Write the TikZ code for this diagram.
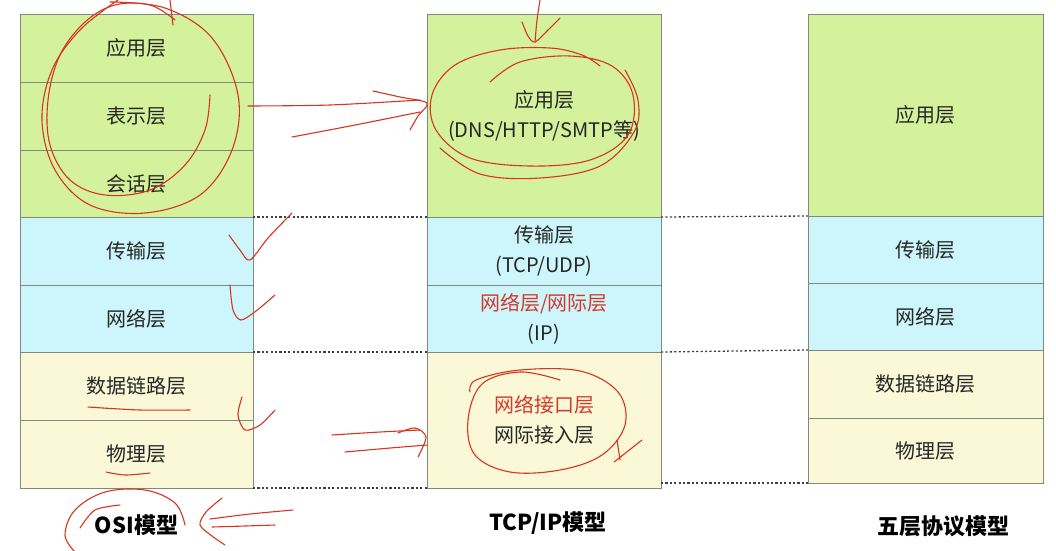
\documentclass[tikz,border=0pt]{standalone}
\usepackage{fontspec}
\setmainfont{Noto Sans CJK SC}
\usepackage{tikz}
\usetikzlibrary{positioning}
\definecolor{appGreen}{HTML}{D4F19C}
\definecolor{midBlue}{HTML}{CCF6FB}
\definecolor{lowYellow}{HTML}{FBF8D8}
\definecolor{edgeGray}{HTML}{7E8A80}
\definecolor{penRed}{HTML}{D8341E}
\definecolor{txtRed}{HTML}{D33A2C}

\tikzset{
  layer/.style={draw=edgeGray, line width=0.9pt, outer sep=0pt, inner sep=0pt,
    align=center, text=black!85, font=\fontsize{20}{30}\selectfont},
  osilayer/.style={layer, minimum width=233pt},
  tcplayer/.style={layer, minimum width=234pt},
  fivelayer/.style={layer, minimum width=235pt},
  caption/.style={inner sep=0pt, font=\fontsize{22}{26}\selectfont\bfseries},
  sep/.style={dash pattern=on 2.2pt off 2.2pt, line width=1.3pt, black!75},
  pen/.style={penRed, line width=1.1pt, line cap=round, line join=round},
}

\begin{document}
\begin{tikzpicture}[x=1pt, y=-1pt]
\useasboundingbox (0,0) rectangle (1056,550);

% OSI model
\node[osilayer, fill=appGreen, minimum height=68pt, anchor=north west] (osi-app) at (20,14) {应用层};
\node[osilayer, fill=appGreen, minimum height=68pt, below=0pt of osi-app] (osi-pres) {表示层};
\node[osilayer, fill=appGreen, minimum height=67pt, below=0pt of osi-pres] (osi-sess) {会话层};
\node[osilayer, fill=midBlue, minimum height=68pt, below=0pt of osi-sess] (osi-trans) {传输层};
\node[osilayer, fill=midBlue, minimum height=67pt, below=0pt of osi-trans] (osi-net) {网络层};
\node[osilayer, fill=lowYellow, minimum height=68pt, below=0pt of osi-net] (osi-link) {数据链路层};
\node[osilayer, fill=lowYellow, minimum height=68pt, below=0pt of osi-link] (osi-phys) {物理层};
\node[caption, below=26pt of osi-phys] (osi-cap) {OSI模型};

% TCP/IP model
\node[tcplayer, fill=appGreen, minimum height=203pt, anchor=north west] (tcp-app) at (427,14) {应用层\\(DNS/HTTP/SMTP等)};
\node[tcplayer, fill=midBlue, minimum height=68pt, below=0pt of tcp-app] (tcp-trans) {传输层\\(TCP/UDP)};
\node[tcplayer, fill=midBlue, minimum height=67pt, below=0pt of tcp-trans] (tcp-net) {\textcolor{txtRed}{网络层/网际层}\\(IP)};
\node[tcplayer, fill=lowYellow, minimum height=136pt, below=0pt of tcp-net] (tcp-link) {\textcolor{txtRed}{网络接口层}\\网际接入层};
\node[caption, below=23pt of tcp-link, xshift=4pt] (tcp-cap) {TCP/IP模型};

% five layer model
\node[fivelayer, fill=appGreen, minimum height=202pt, anchor=north west] (five-app) at (808,14) {应用层};
\node[fivelayer, fill=midBlue, minimum height=67pt, below=0pt of five-app] (five-trans) {传输层};
\node[fivelayer, fill=midBlue, minimum height=67pt, below=0pt of five-trans] (five-net) {网络层};
\node[fivelayer, fill=lowYellow, minimum height=68pt, below=0pt of five-net] (five-link) {数据链路层};
\node[fivelayer, fill=lowYellow, minimum height=65pt, below=0pt of five-link] (five-phys) {物理层};
\node[caption, below=32pt of five-phys, xshift=18pt] (five-cap) {五层协议模型};

% dotted separators
\draw[sep] (osi-sess.south east) -- (tcp-app.south west);
\draw[sep] (osi-net.south east) -- (tcp-net.south west);
\draw[sep] (osi-phys.south east) -- (tcp-link.south west);
\draw[sep] (tcp-app.south east) -- (five-app.south west);
\draw[sep] (tcp-net.south east) -- (five-net.south west);
\draw[sep] (five-phys.south west -| tcp-link.east) -- (five-phys.south west);

% hand annotations
\draw[pen] plot[smooth, tension=0.6] coordinates {(210,95) (205,130) (185,165) (150,190) (105,195) (70,180) (50,145) (48,100) (60,55) (85,22) (115,5) (150,5) (175,20)};
\draw[pen] plot[smooth, tension=0.6] coordinates {(110,2) (165,8) (212,38) (238,95) (232,150) (200,195) (145,213) (90,205) (55,170) (42,120) (52,70) (80,30) (118,0)};
\draw[pen] (173,25) -- (170,0);
\draw[pen] plot[smooth] coordinates {(248,106) (330,105) (420,100)};
\draw[pen] plot[smooth] coordinates {(292,137) (350,126) (420,112)};
\draw[pen] plot[smooth] coordinates {(373,91) (400,97) (427,103) (418,116) (410,130)};

\draw[pen] plot[smooth, tension=0.6] coordinates {(490,82) (520,62) (570,56) (612,66) (633,95) (628,135) (590,160) (530,166) (470,158) (436,130) (432,95) (455,65) (500,50) (550,48) (582,55) (600,66)};
\draw[pen] plot[smooth, tension=0.6] coordinates {(440,148) (480,174) (540,178) (600,166) (634,132) (638,100) (625,70)};
\draw[pen] plot[smooth] coordinates {(540,0) (537,20) (535,42)};
\draw[pen] plot[smooth] coordinates {(522,22) (528,36) (535,42) (548,30) (560,18)};

\draw[pen] plot[smooth, tension=0.6] coordinates {(560,380) (520,372) (482,384) (468,420) (475,455) (510,472) (560,470) (602,455) (625,425) (618,392) (580,371) (520,370) (476,380) (470,392)};
\draw[pen] (617,440) -- (620,460);
\draw[pen] (642,440) -- (614,462);
\draw[pen] plot[smooth] coordinates {(332,435) (380,432) (420,430)};
\draw[pen] plot[smooth] coordinates {(345,452) (390,448) (427,445)};
\draw[pen] plot[smooth] coordinates {(398,433) (415,428) (426,437) (418,457)};

\draw[pen] plot[smooth] coordinates {(229,235) (240,250) (250,260) (268,238) (292,213)};
\draw[pen] plot[smooth] coordinates {(230,285) (233,310) (241,320) (256,311) (275,295)};
\draw[pen] plot[smooth] coordinates {(242,397) (238,415) (245,430) (260,425) (275,410)};
\draw[pen] plot[smooth] coordinates {(88,407) (140,410) (190,410)};
\draw[pen] plot[smooth] coordinates {(106,472) (125,475) (150,473)};

\draw[pen] plot[smooth, tension=0.6] coordinates {(185,525) (175,503) (145,490) (105,492) (75,510) (65,535) (75,552)};
\draw[pen] plot[smooth] coordinates {(120,505) (95,510) (80,528)};
\draw[pen] plot[smooth] coordinates {(222,498) (206,512) (200,525) (212,536) (225,545)};
\draw[pen] plot[smooth] coordinates {(210,519) (250,514) (293,510)};
\draw[pen] plot[smooth] coordinates {(212,527) (245,526) (275,525)};
\end{tikzpicture}
\end{document}
